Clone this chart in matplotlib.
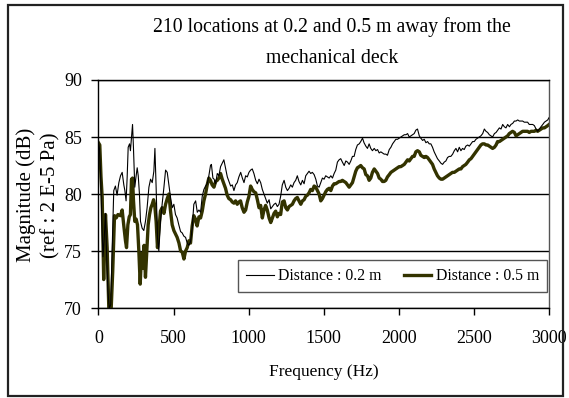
import matplotlib
matplotlib.use("Agg")
import matplotlib.pyplot as plt
from matplotlib.patches import Rectangle

matplotlib.rcParams['font.family'] = ['Liberation Serif', 'DejaVu Serif']
matplotlib.rcParams['font.size'] = 12

# 0.2 m 处的频谱
freq_02 = [0, 7, 15, 22, 30, 38, 47, 55, 63, 72, 82, 92, 102, 113, 124, 136, 147, 158, 169, 176,
           184, 191, 198, 207, 213, 220, 227, 233, 242, 250, 258, 265, 273, 280, 291, 302, 313, 324, 336, 347,
           358, 369, 376, 384, 393, 402, 413, 424, 436, 447, 458, 469, 480, 491, 502, 513, 524, 535, 547, 557,
           569, 580, 591, 602, 613, 624, 635, 647, 658, 669, 680, 691, 702, 713, 724, 735, 746, 752, 762, 770,
           780, 791, 802, 813, 824, 835, 846, 858, 869, 880, 891, 902, 913, 924, 935, 947, 958, 969, 980, 991,
           1002, 1013, 1024, 1035, 1047, 1058, 1069, 1080, 1091, 1102, 1113, 1124, 1136, 1147, 1158, 1169, 1180, 1191, 1202, 1213,
           1224, 1236, 1247, 1258, 1269, 1280, 1291, 1302, 1313, 1324, 1335, 1347, 1358, 1369, 1380, 1391, 1402, 1413, 1424, 1436,
           1447, 1458, 1469, 1480, 1491, 1502, 1513, 1524, 1536, 1547, 1558, 1569, 1580, 1591, 1602, 1613, 1624, 1636, 1647, 1658,
           1669, 1680, 1691, 1702, 1713, 1724, 1736, 1746, 1758, 1768, 1780, 1791, 1802, 1813, 1824, 1836, 1847, 1858, 1869, 1880,
           1891, 1902, 1913, 1924, 1936, 1947, 1958, 1969, 1980, 1991, 2002, 2013, 2024, 2036, 2047, 2058, 2069, 2080, 2091, 2102,
           2113, 2124, 2136, 2146, 2158, 2169, 2180, 2191, 2202, 2213, 2224, 2235, 2246, 2257, 2269, 2280, 2291, 2302, 2313, 2324,
           2335, 2346, 2358, 2369, 2380, 2391, 2402, 2413, 2424, 2435, 2446, 2458, 2469, 2480, 2491, 2502, 2513, 2524, 2535, 2546,
           2558, 2569, 2580, 2591, 2602, 2613, 2624, 2636, 2647, 2658, 2669, 2680, 2691, 2702, 2713, 2724, 2736, 2746, 2758, 2769,
           2780, 2791, 2802, 2813, 2824, 2835, 2846, 2857, 2868, 2880, 2891, 2902, 2913, 2924, 2935, 2946, 2958, 2969, 2980, 2991,
           3000]
mag_02 = [84.5, 84.0, 81.5, 78.0, 74.5, 76.0, 78.3, 74.5, 71.5, 70.0, 70.3, 75.5, 80.3, 80.7, 79.9, 81.0, 81.6, 81.9, 80.8, 80.3,
          79.4, 81.4, 84.1, 84.4, 83.8, 84.9, 86.1, 84.1, 80.6, 81.5, 82.3, 81.6, 80.0, 77.6, 77.0, 76.8, 77.6, 78.8, 80.6, 81.3,
          81.0, 82.0, 84.0, 80.6, 76.2, 75.0, 77.6, 79.1, 80.6, 82.1, 81.9, 80.8, 79.7, 78.8, 79.1, 78.2, 77.9, 77.3, 76.7, 76.6,
          76.3, 76.2, 75.7, 75.5, 75.8, 77.0, 79.1, 79.4, 78.4, 78.6, 78.4, 79.8, 80.4, 80.7, 80.9, 81.6, 82.5, 82.6, 81.4, 81.3,
          80.9, 81.8, 81.6, 82.4, 82.7, 83.0, 82.3, 81.5, 81.1, 80.7, 80.8, 80.3, 80.8, 81.0, 81.5, 81.9, 81.4, 81.0, 81.6, 81.5,
          81.9, 82.1, 82.2, 81.8, 81.2, 80.9, 81.3, 81.0, 80.4, 80.0, 79.6, 79.2, 79.5, 78.7, 78.9, 79.1, 79.2, 78.9, 79.1, 79.8,
          80.8, 81.2, 80.6, 80.3, 80.5, 80.8, 80.6, 81.0, 81.2, 81.6, 81.1, 80.8, 81.2, 80.9, 81.6, 81.8, 82.0, 81.8, 81.9, 81.7,
          81.3, 80.7, 80.6, 81.0, 81.4, 81.3, 81.6, 81.5, 81.4, 81.6, 81.4, 81.8, 82.1, 82.8, 83.0, 83.1, 82.8, 82.5, 82.9, 82.8,
          82.6, 82.9, 83.3, 83.3, 83.9, 84.3, 84.4, 84.6, 84.9, 84.5, 84.2, 84.0, 84.4, 84.0, 83.8, 84.0, 83.8, 83.9, 83.6, 83.7,
          83.6, 83.5, 83.5, 83.4, 83.9, 84.1, 84.4, 84.6, 84.8, 84.8, 84.9, 85.0, 85.1, 85.2, 85.2, 85.3, 85.0, 85.1, 85.2, 85.3,
          85.6, 85.7, 85.1, 84.9, 84.7, 84.8, 84.5, 84.6, 84.4, 84.4, 84.1, 83.7, 83.4, 83.1, 82.9, 82.7, 82.6, 82.8, 82.9, 83.2,
          83.3, 83.3, 83.5, 83.8, 84.0, 83.7, 84.1, 83.8, 84.0, 83.9, 84.2, 84.3, 84.2, 84.4, 84.6, 84.6, 84.8, 84.9, 85.0, 85.1,
          85.3, 85.7, 85.5, 85.4, 85.2, 85.1, 85.0, 85.3, 85.4, 85.6, 85.8, 85.7, 86.1, 85.9, 85.8, 86.1, 85.9, 86.1, 86.2, 86.4,
          86.4, 86.5, 86.4, 86.4, 86.4, 86.3, 86.3, 86.3, 86.1, 86.1, 86.1, 86.0, 85.7, 85.5, 85.7, 85.9, 86.1, 86.3, 86.4, 86.5,
          86.7]

# 0.5 m 处的频谱
freq_05 = [0, 9, 17, 25, 35, 41, 47, 58, 69, 77, 85, 95, 107, 118, 130, 147, 158, 169, 180, 187,
           196, 205, 213, 220, 227, 233, 242, 251, 260, 269, 278, 287, 296, 304, 313, 322, 331, 340, 349, 358,
           367, 375, 384, 393, 402, 413, 424, 436, 447, 458, 469, 480, 491, 502, 513, 524, 536, 547, 558, 569,
           580, 591, 602, 613, 624, 635, 646, 657, 669, 680, 691, 702, 713, 724, 735, 746, 757, 769, 780, 791,
           802, 813, 824, 835, 846, 857, 868, 880, 891, 902, 913, 924, 935, 946, 957, 969, 980, 991, 1002, 1013,
           1024, 1035, 1047, 1058, 1069, 1080, 1091, 1102, 1113, 1124, 1136, 1147, 1158, 1169, 1180, 1191, 1202, 1213, 1224, 1236,
           1247, 1258, 1269, 1280, 1291, 1302, 1313, 1324, 1335, 1347, 1358, 1369, 1380, 1391, 1402, 1413, 1424, 1436, 1447, 1458,
           1469, 1480, 1491, 1502, 1513, 1524, 1536, 1547, 1558, 1569, 1580, 1591, 1602, 1613, 1624, 1636, 1647, 1658, 1669, 1680,
           1691, 1702, 1713, 1724, 1736, 1746, 1758, 1769, 1780, 1791, 1802, 1813, 1824, 1836, 1847, 1858, 1869, 1880, 1891, 1902,
           1913, 1924, 1936, 1947, 1958, 1969, 1980, 1991, 2002, 2013, 2024, 2036, 2047, 2058, 2069, 2080, 2091, 2102, 2113, 2124,
           2136, 2146, 2158, 2169, 2180, 2191, 2202, 2213, 2224, 2235, 2246, 2257, 2269, 2280, 2291, 2302, 2313, 2324, 2335, 2346,
           2357, 2369, 2380, 2391, 2402, 2413, 2424, 2435, 2446, 2458, 2469, 2480, 2491, 2502, 2513, 2524, 2535, 2546, 2557, 2569,
           2580, 2591, 2602, 2613, 2624, 2636, 2647, 2657, 2669, 2680, 2691, 2702, 2713, 2724, 2735, 2746, 2757, 2769, 2780, 2791,
           2802, 2813, 2824, 2835, 2846, 2857, 2868, 2880, 2891, 2902, 2913, 2924, 2935, 2946, 2958, 2969, 2980, 2991, 3000]
mag_05 = [84.5, 84.3, 81.5, 79.7, 72.5, 76.0, 78.2, 75.3, 70.0, 70.0, 70.0, 73.2, 78.1, 77.9, 78.2, 78.1, 78.6, 77.2, 75.9, 75.3,
          77.3, 78.0, 78.2, 81.3, 81.4, 79.5, 77.6, 77.8, 77.3, 75.0, 72.1, 74.8, 73.5, 75.5, 72.7, 75.0, 77.3, 78.2, 78.8, 79.1,
          79.5, 79.0, 77.6, 75.3, 76.8, 78.5, 78.8, 78.3, 79.1, 79.6, 80.0, 78.5, 77.3, 76.8, 76.5, 76.2, 75.7, 75.0, 74.9, 74.3,
          75.0, 75.3, 75.9, 75.7, 77.2, 78.1, 77.8, 77.2, 78.0, 77.9, 78.5, 79.4, 80.0, 80.8, 81.4, 81.2, 80.8, 80.6, 81.1, 81.2,
          81.4, 81.8, 81.3, 80.9, 80.5, 79.9, 79.6, 79.5, 79.3, 79.2, 79.4, 79.1, 79.3, 79.4, 78.8, 78.4, 78.6, 79.3, 79.8, 80.7,
          80.4, 80.2, 80.1, 79.5, 78.8, 79.0, 77.9, 78.6, 79.0, 78.6, 77.9, 77.5, 77.9, 78.3, 78.5, 78.0, 78.3, 78.2, 79.3, 79.4,
          78.8, 78.6, 78.9, 79.0, 79.1, 79.4, 79.6, 79.7, 79.4, 79.1, 79.4, 79.5, 79.8, 79.9, 80.1, 80.4, 80.3, 80.7, 80.6, 80.3,
          80.0, 79.4, 79.6, 79.9, 80.2, 80.4, 80.5, 80.3, 80.7, 80.9, 80.9, 81.0, 81.1, 81.1, 81.2, 81.1, 81.0, 80.8, 80.6, 80.8,
          81.0, 81.5, 82.0, 82.3, 82.4, 82.5, 82.3, 82.2, 81.7, 81.6, 81.2, 81.4, 81.9, 82.2, 82.0, 81.8, 81.4, 81.3, 81.1, 81.1,
          81.2, 81.5, 81.7, 81.9, 82.0, 82.1, 82.2, 82.3, 82.4, 82.4, 82.5, 82.6, 82.8, 83.0, 82.9, 83.1, 83.3, 83.3, 83.7, 83.8,
          83.7, 83.4, 83.3, 83.2, 83.3, 83.2, 83.0, 82.8, 82.6, 82.2, 81.9, 81.6, 81.4, 81.3, 81.3, 81.4, 81.5, 81.6, 81.7, 81.8,
          81.9, 81.9, 82.0, 82.1, 82.2, 82.2, 82.4, 82.5, 82.6, 82.8, 83.0, 83.1, 83.3, 83.5, 83.7, 83.9, 84.1, 84.3, 84.4, 84.4,
          84.3, 84.3, 84.2, 84.1, 84.0, 84.1, 84.3, 84.6, 84.6, 84.7, 84.8, 84.9, 85.0, 85.1, 85.3, 85.4, 85.5, 85.4, 85.1, 85.2,
          85.3, 85.4, 85.5, 85.5, 85.5, 85.5, 85.4, 85.5, 85.5, 85.5, 85.6, 85.5, 85.6, 85.7, 85.8, 85.8, 85.9, 86.0, 86.1]

x_ticks = [0, 500, 1000, 1500, 2000, 2500, 3000]
y_ticks = [70, 75, 80, 85, 90]

fig = plt.figure(figsize=(5.69, 3.98), dpi=100)
ax = fig.add_axes([0.173, 0.226, 0.792, 0.573])

ax.plot(freq_02, mag_02, color='black', lw=0.8, label='Distance : 0.2 m', zorder=3)
ax.plot(freq_05, mag_05, color='#333300', lw=2.4, label='Distance : 0.5 m', zorder=2)

ax.set_xlim(0, 3000)
ax.set_ylim(70, 90)
ax.set_xticks(x_ticks)
ax.set_yticks(y_ticks)
ax.grid(axis='y', color='black', lw=1.0)
ax.set_axisbelow(True)
ax.tick_params(direction='out', length=5, width=1, color='black', labelsize=13)
ax.tick_params(axis='x', pad=11)
ax.tick_params(axis='y', pad=7)
for s in ax.spines.values():
    s.set_linewidth(1.0)
    s.set_color('black')
ax.spines['right'].set_color('#555555')

ax.set_xlabel('Frequency (Hz)', fontsize=12.5, labelpad=12)

# 纵轴标题和图标题直接放在画布上
fig.text(38.5 / 569, 1 - 195 / 398, 'Magnitude (dB)\n(ref : 2 E-5 Pa)', rotation=90,
         ha='center', va='center', fontsize=15, linespacing=1.35, multialignment='center')
fig.text(332 / 569, 1 - 42.5 / 398, '210 locations at 0.2 and 0.5 m away from the\nmechanical deck',
         ha='center', va='center', fontsize=14.2, linespacing=1.9, multialignment='center')

leg = ax.legend(loc='lower right', bbox_to_anchor=(0.9956, 0.070), borderaxespad=0, ncol=2,
                fontsize=11.3, frameon=True, fancybox=False, framealpha=1, edgecolor='#555555',
                handlelength=1.75, handletextpad=0.3, columnspacing=1.4, borderpad=0.5)
leg.get_frame().set_linewidth(1.0)

# 外边框
fig.patches.append(Rectangle((0.014, 0.005), 0.976, 0.982, transform=fig.transFigure,
                             fill=False, edgecolor='#222222', lw=1.6))

fig.savefig('out.png', dpi=100)
